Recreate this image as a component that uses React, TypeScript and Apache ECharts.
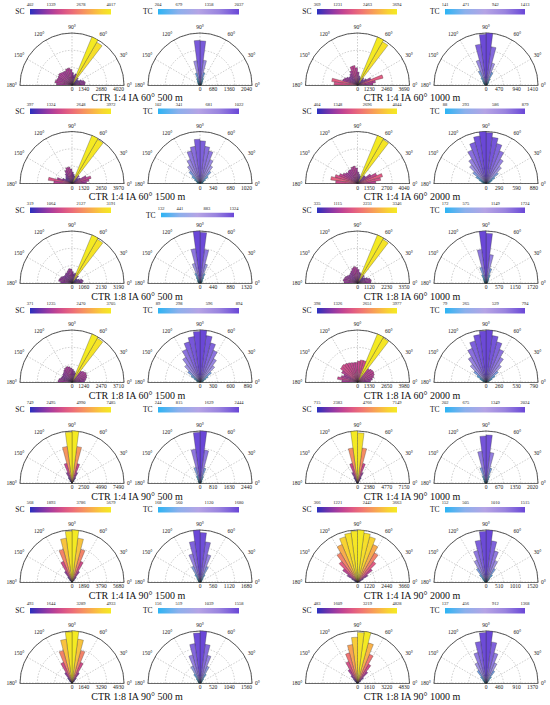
import React, { useEffect, useRef } from 'react';
import * as echarts from 'echarts';

const FONT = '"Liberation Serif", "DejaVu Serif", serif';

const TITLES = [
  'CTR 1:4 IA 60° 500 m', 'CTR 1:4 IA 60° 1000 m',
  'CTR 1:4 IA 60° 1500 m', 'CTR 1:4 IA 60° 2000 m',
  'CTR 1:8 IA 60° 500 m', 'CTR 1:8 IA 60° 1000 m',
  'CTR 1:8 IA 60° 1500 m', 'CTR 1:8 IA 60° 2000 m',
  'CTR 1:4 IA 90° 500 m', 'CTR 1:4 IA 90° 1000 m',
  'CTR 1:4 IA 90° 1500 m', 'CTR 1:4 IA 90° 2000 m',
  'CTR 1:8 IA 90° 500 m', 'CTR 1:8 IA 90° 1000 m',
];

// colour-bar tick labels (min, 1/3, 2/3, max)
const SC_TICKS = [
  [402, 1339, 2678, 4017], [369, 1231, 2463, 3694],
  [397, 1324, 2648, 3972], [404, 1348, 2696, 4044],
  [319, 1064, 2127, 3191], [335, 1115, 2231, 3346],
  [371, 1235, 2470, 3705], [398, 1326, 2651, 3977],
  [749, 2495, 4990, 7485], [715, 2383, 4766, 7149],
  [568, 1893, 3786, 5679], [366, 1221, 2442, 3663],
  [493, 1644, 3289, 4933], [483, 1609, 3219, 4828],
];
const TC_TICKS = [
  [204, 679, 1358, 2037], [141, 471, 942, 1413],
  [102, 341, 681, 1022], [88, 293, 586, 879],
  [132, 441, 883, 1324], [172, 575, 1149, 1724],
  [89, 298, 596, 894], [79, 265, 529, 794],
  [244, 815, 1629, 2444], [202, 675, 1349, 2024],
  [168, 560, 1120, 1680], [152, 505, 1010, 1515],
  [156, 519, 1039, 1558], [137, 456, 912, 1368],
];

// angular bins of 7.5 degrees, from 0° to 180°
const BIN_DEG = 7.5;

const SC_0 = [1000, 1040, 960, 800, 600, 560, 700, 3820, 4017, 900, 760, 960, 1200, 1330, 1300, 1200, 1200, 1250, 1300, 1250, 1200, 1250, 1330, 1200];
const TC_0 = [60, 60, 70, 80, 90, 110, 140, 200, 290, 510, 980, 1730, 1750, 960, 490, 280, 190, 140, 110, 90, 80, 70, 60, 60];
const SC_1 = [1100, 1290, 1880, 1030, 740, 550, 660, 3550, 3694, 550, 660, 920, 1220, 1400, 1370, 1100, 920, 810, 810, 920, 1030, 1100, 1850, 1660];
const TC_1 = [40, 40, 50, 60, 70, 90, 120, 200, 380, 620, 1050, 1413, 1380, 1120, 700, 420, 230, 140, 100, 80, 60, 50, 40, 40];
const SC_2 = [1110, 1310, 1510, 1190, 715, 556, 794, 3900, 3972, 596, 715, 874, 1112, 1270, 1270, 1112, 874, 715, 596, 596, 794, 1190, 1830, 1390];
const TC_2 = [51, 51, 60, 82, 123, 204, 307, 409, 511, 664, 736, 838, 870, 736, 664, 511, 409, 307, 204, 123, 82, 60, 51, 51];
const SC_3 = [1420, 1820, 2020, 1620, 1210, 810, 810, 3950, 4044, 610, 730, 890, 1210, 1370, 1330, 1210, 1210, 1130, 1210, 1330, 1540, 1820, 2100, 1700];
const TC_3 = [44, 53, 80, 115, 175, 265, 370, 480, 600, 700, 790, 860, 879, 810, 720, 615, 480, 395, 280, 195, 125, 80, 53, 44];
const SC_4 = [640, 700, 640, 480, 380, 380, 575, 3100, 3191, 640, 575, 700, 860, 890, 800, 700, 700, 640, 640, 700, 765, 800, 830, 700];
const TC_4 = [50, 50, 55, 60, 70, 80, 100, 160, 265, 500, 860, 1290, 1324, 880, 520, 270, 160, 100, 80, 70, 60, 55, 50, 50];
const SC_5 = [870, 900, 840, 700, 570, 500, 640, 3250, 3346, 640, 700, 870, 1000, 1070, 1000, 870, 800, 740, 740, 800, 870, 900, 940, 870];
const TC_5 = [60, 60, 65, 70, 80, 100, 130, 170, 280, 500, 950, 1650, 1724, 1120, 540, 290, 170, 120, 90, 75, 65, 60, 60, 60];
const SC_6 = [900, 1000, 1100, 1150, 1180, 1100, 1000, 3600, 3705, 700, 800, 900, 1000, 1100, 1150, 1100, 1000, 900, 850, 800, 800, 850, 950, 1000];
const TC_6 = [45, 54, 72, 107, 160, 250, 358, 465, 590, 697, 805, 894, 870, 787, 715, 608, 490, 375, 268, 179, 107, 72, 54, 45];
const SC_7 = [1000, 1150, 1300, 1400, 1450, 1400, 1300, 3900, 3977, 1700, 1700, 1600, 1500, 1500, 1550, 1600, 1650, 1700, 1650, 1400, 1150, 1300, 1550, 1200];
const TC_7 = [40, 48, 71, 103, 160, 238, 333, 437, 540, 635, 715, 794, 780, 730, 650, 556, 445, 341, 238, 160, 103, 71, 48, 40];
const SC_8 = [60, 70, 80, 100, 140, 220, 450, 900, 1650, 2900, 5300, 7485, 7340, 5300, 2950, 1650, 900, 450, 220, 140, 100, 80, 70, 60];
const TC_8 = [60, 60, 65, 70, 80, 100, 130, 200, 340, 730, 1560, 2444, 2380, 1600, 760, 350, 200, 130, 100, 80, 70, 65, 60, 60];
const SC_9 = [60, 70, 80, 100, 140, 220, 430, 860, 1570, 2800, 4860, 6900, 7149, 4860, 2800, 1570, 860, 430, 220, 140, 100, 80, 70, 60];
const TC_9 = [50, 50, 55, 60, 70, 90, 120, 180, 290, 600, 1200, 1870, 1830, 1250, 620, 300, 180, 120, 90, 70, 60, 55, 50, 50];
const SC_10 = [60, 70, 90, 120, 200, 340, 680, 1360, 2440, 3700, 4830, 5679, 5550, 4830, 3700, 2440, 1360, 680, 340, 200, 120, 90, 70, 60];
const TC_10 = [50, 50, 55, 60, 75, 100, 150, 270, 540, 920, 1310, 1600, 1680, 1330, 940, 550, 280, 150, 100, 75, 60, 55, 50, 50];
const SC_11 = [110, 150, 220, 440, 840, 1320, 1830, 2380, 2860, 3300, 3480, 3663, 3600, 3480, 3300, 2860, 2380, 1830, 1320, 840, 440, 220, 150, 110];
const TC_11 = [40, 45, 50, 60, 90, 150, 270, 455, 680, 940, 1210, 1515, 1480, 1230, 950, 690, 460, 270, 150, 90, 60, 50, 45, 40];
const SC_12 = [50, 60, 80, 110, 180, 320, 600, 1140, 2120, 3200, 4200, 4933, 4850, 4190, 3200, 2120, 1140, 600, 320, 180, 110, 80, 60, 50];
const TC_12 = [45, 45, 50, 60, 75, 100, 160, 310, 545, 860, 1170, 1558, 1500, 1190, 870, 550, 310, 160, 100, 75, 60, 50, 45, 45];
const SC_13 = [90, 110, 140, 200, 390, 720, 1350, 2030, 2900, 3860, 4828, 4700, 4250, 3600, 2900, 2170, 1450, 870, 480, 250, 160, 130, 110, 90];
const TC_13 = [40, 40, 45, 55, 70, 110, 205, 380, 575, 820, 1090, 1368, 1330, 1100, 830, 580, 385, 205, 110, 70, 55, 45, 40, 40];

const SC_BINS = [SC_0, SC_1, SC_2, SC_3, SC_4, SC_5, SC_6, SC_7, SC_8, SC_9, SC_10, SC_11, SC_12, SC_13];
const TC_BINS = [TC_0, TC_1, TC_2, TC_3, TC_4, TC_5, TC_6, TC_7, TC_8, TC_9, TC_10, TC_11, TC_12, TC_13];

// colour-bar gradients
const SC_COLORS = ['#2a30bf', '#6633ae', '#9a3aa2', '#c44591', '#df5a84', '#ef7474', '#f69360', '#f9b24a', '#f8d333', '#f4ea22'];
const TC_COLORS = ['#2bb4f4', '#8cb0ec', '#b5a4e5', '#9a84df', '#6a47d7'];
// bar fill colours along the same value range
const SC_BAR_COLORS = ['#4a31b5', '#8536a6', '#a93c9c', '#c9478f', '#e25c84', '#ef7474', '#f69360', '#f9b24a', '#f8d333', '#f4ea22'];
const TC_BAR_COLORS = ['#2bb4f4', '#a397e4', '#8a70dd', '#6a47d7'];

// layout (pixels)
const ROW_BASE = [85, 183.5, 283, 382, 483, 582, 683];
const ROW_TITLE = [97.2, 196.4, 296, 395, 496, 595, 696];
const ROW_BAR = [9, 108.5, 207.5, 308, 407, 507, 608];
const COL_SC_X = [72, 357.5];
const COL_TC_X = [200, 486];
const COL_TITLE_X = [137, 412];
const SC_BAR_X = [[30, 111], [317, 397]];
const TC_BAR_X = [[158, 239], [445, 525]];
const RADIUS = 52;

function gradient(colors: string[]) {
  return {
    type: 'linear', x: 0, y: 0, x2: 1, y2: 0,
    colorStops: colors.map((c, i) => ({ offset: i / (colors.length - 1), color: c })),
  };
}

function renderSector(params: any, api: any) {
  const cs = params.coordSys;
  const v = api.value(0);
  const p0 = api.coord([v, api.value(1)]);
  const p1 = api.coord([v, api.value(2)]);
  const t0 = -p0[3];
  const t1 = -p1[3];
  return {
    type: 'sector',
    shape: {
      cx: cs.cx, cy: cs.cy, r0: 0, r: p0[2],
      startAngle: Math.min(t0, t1), endAngle: Math.max(t0, t1), clockwise: true,
    },
    style: { fill: api.visual('color'), stroke: '#2a2a2a', lineWidth: 0.3 },
  };
}

function buildOption() {
  const polar: any[] = [];
  const angleAxis: any[] = [];
  const radiusAxis: any[] = [];
  const series: any[] = [];
  const visualMap: any[] = [];
  const grid: any[] = [];
  const xAxis: any[] = [];
  const yAxis: any[] = [];
  const graphic: any[] = [];

  for (let p = 0; p < TITLES.length; p++) {
    const row = Math.floor(p / 2);
    const col = p % 2;
    const cy = ROW_BASE[row];
    const kinds = [
      { name: 'SC', cx: COL_SC_X[col], ticks: SC_TICKS[p], bins: SC_BINS[p], colors: SC_COLORS, barColors: SC_BAR_COLORS,
        bx: SC_BAR_X[col], by: ROW_BAR[row], bh: 5.5 },
      { name: 'TC', cx: COL_TC_X[col], ticks: TC_TICKS[p], bins: TC_BINS[p], colors: TC_COLORS, barColors: TC_BAR_COLORS,
        bx: p === 4 ? [161, 234] : TC_BAR_X[col], by: p === 4 ? 212.7 : ROW_BAR[row], bh: p === 4 ? 4.6 : 5.5 },
    ];
    for (const k of kinds) {
      const maxV = k.ticks[3];
      const pi = polar.length;
      polar.push({ center: [k.cx, cy], radius: RADIUS });
      angleAxis.push({
        polarIndex: pi, type: 'value', min: 0, max: 180, interval: 30,
        startAngle: 0, endAngle: 180, clockwise: false,
        axisLine: { show: true, lineStyle: { color: '#333', width: 0.8 } },
        axisTick: { show: false },
        splitLine: { show: true, lineStyle: { color: '#9a9a9a', width: 0.5, type: [1.5, 1.5] } },
        axisLabel: { formatter: '{value}°', fontSize: 5.5, margin: 3, color: '#222', fontFamily: FONT },
      });
      radiusAxis.push({
        polarIndex: pi, type: 'value', min: 0, max: maxV, interval: maxV / 3,
        axisLine: { show: true, lineStyle: { color: '#444', width: 0.8 } },
        axisTick: { show: false },
        splitLine: { show: true, lineStyle: { color: '#9a9a9a', width: 0.5, type: [1.5, 1.5] } },
        axisLabel: {
          fontSize: 5.5, lineHeight: 6, color: '#222', fontFamily: FONT, margin: -1.2,
          verticalAlign: 'top', align: 'right', alignMinLabel: 'center',
          formatter: (v: number) => String(Math.round(v / 10) * 10),
        },
      });
      // left half of the base line
      polar.push({ center: [k.cx, cy], radius: RADIUS });
      angleAxis.push({ polarIndex: pi + 1, type: 'value', min: 0, max: 180, startAngle: 180, show: false });
      radiusAxis.push({
        polarIndex: pi + 1, type: 'value', min: 0, max: 1,
        axisLine: { show: true, lineStyle: { color: '#444', width: 0.8 } },
        axisTick: { show: false }, axisLabel: { show: false }, splitLine: { show: false },
      });

      const si = series.length;
      series.push({
        type: 'custom', name: k.name + ' ' + TITLES[p], coordinateSystem: 'polar', polarIndex: pi,
        renderItem: renderSector, encode: { radius: 0, angle: 1 }, z: 3,
        data: k.bins.map((v, i) => [v, i * BIN_DEG, (i + 1) * BIN_DEG]),
      });
      visualMap.push({
        type: 'continuous', show: false, seriesIndex: si, dimension: 0,
        min: k.ticks[0], max: maxV,
        inRange: { color: k.barColors }, outOfRange: { color: [k.barColors[0]] },
      });

      const gi = grid.length;
      grid.push({
        left: k.bx[0], top: k.by, width: k.bx[1] - k.bx[0], height: k.bh,
        show: true, borderWidth: 0, backgroundColor: gradient(k.colors), outerBoundsMode: 'none',
      });
      xAxis.push({
        gridIndex: gi, type: 'value', position: 'top', min: k.ticks[0], max: maxV,
        axisLine: { show: false }, axisTick: { show: false }, splitLine: { show: false },
        axisLabel: {
          customValues: k.ticks, fontSize: 4.5, lineHeight: 5, margin: 1.8, color: '#222', fontFamily: FONT,
          formatter: (v: number) => String(Math.round(v)),
        },
      });
      yAxis.push({
        gridIndex: gi, type: 'category', data: [k.name],
        axisLine: { show: false }, axisTick: { show: false }, splitLine: { show: false },
        axisLabel: { fontSize: 7.5, margin: 5.5, color: '#111', fontFamily: FONT },
      });
    }
    graphic.push({
      type: 'text', x: COL_TITLE_X[col], y: ROW_TITLE[row],
      style: {
        text: TITLES[p], fontSize: 10, lineHeight: 10, fontFamily: FONT, fill: '#111',
        align: 'center', verticalAlign: 'middle',
      },
    });
  }

  return {
    animation: false,
    backgroundColor: '#fff',
    polar, angleAxis, radiusAxis, series, visualMap, grid, xAxis, yAxis, graphic,
  };
}

export default function App() {
  const ref = useRef<HTMLDivElement>(null);
  useEffect(() => {
    const chart = echarts.init(ref.current as HTMLDivElement, null, { renderer: 'svg', width: 550, height: 705 });
    chart.setOption(buildOption() as any);
    return () => chart.dispose();
  }, []);
  return (
    <div
      ref={ref}
      style={{ position: 'fixed', left: 0, top: 0, width: 550, height: 705, background: '#fff' }}
    />
  );
}
